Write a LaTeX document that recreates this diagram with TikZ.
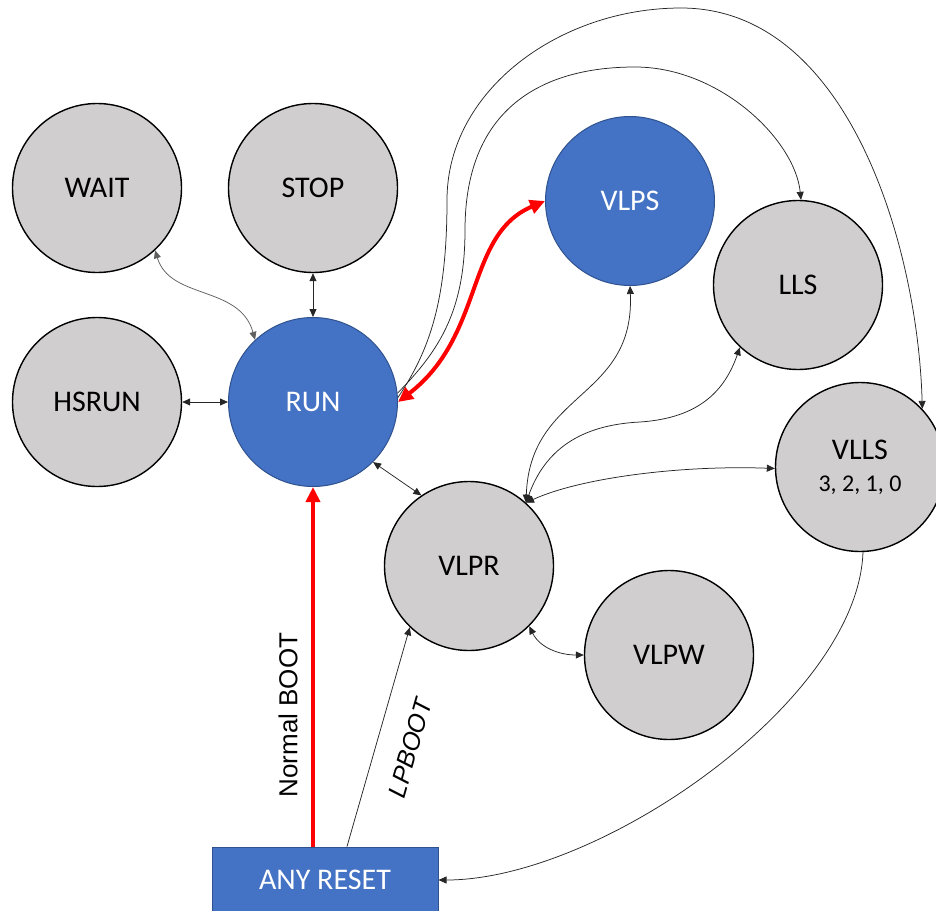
\documentclass[tikz,border=0pt]{standalone}
\usepackage{fontspec}
\setmainfont{Carlito}
\newfontfamily\labelfont{Liberation Sans}
\usetikzlibrary{arrows.meta}
\definecolor{nodeblue}{HTML}{4472C4}
\definecolor{blueedge}{HTML}{2F528F}
\definecolor{nodegray}{HTML}{D0CECE}
\definecolor{linkgray}{HTML}{606060}
\tikzset{
  state/.style={circle, minimum size=169pt, inner sep=0pt, fill=nodegray, draw=black,
    line width=1.4pt, font=\fontsize{30}{32}\selectfont},
  bluestate/.style={state, fill=nodeblue, draw=blueedge, line width=1pt, text=white},
  link/.style={line width=0.75pt, draw=black!85, {Triangle[length=8pt,width=7pt]}-{Triangle[length=8pt,width=7pt]}},
  onelink/.style={line width=0.75pt, draw=black!85, -{Triangle[length=8pt,width=7pt]}},
  redlink/.style={line width=4pt, draw=red},
  redtips/.style={{Triangle[length=15pt,width=14pt]}-{Triangle[length=15pt,width=14pt]}},
  redtip/.style={-{Triangle[length=15pt,width=14pt]}},
  resetbox/.style={rectangle, draw=blueedge, fill=nodeblue, text=white, minimum width=226pt,
    minimum height=66pt, inner sep=0pt, line width=1pt, font=\fontsize{30}{32}\selectfont},
  lbl/.style={font=\labelfont\fontsize{26}{28}\selectfont, inner sep=0pt},
}
\begin{document}
\begin{tikzpicture}[x=1pt,y=-1pt]
\clip (0,0) rectangle (936,910);
% states
\node[state] (wait) at (97,188) {WAIT};
\node[state] (stop) at (313,188) {STOP};
\node[state] (hsrun) at (97,402) {HSRUN};
\node[bluestate] (run) at (313,402) {RUN};
\node[bluestate] (vlps) at (630,201) {VLPS};
\node[state] (lls) at (798,285) {LLS};
\node[state, align=center] (vlls) at (860,467) {VLLS\\{\fontsize{24}{28}\selectfont 3, 2, 1, 0}};
\node[state] (vlpr) at (469,566) {VLPR};
\node[state] (vlpw) at (669,655) {VLPW};
\node[resetbox] (reset) at (325,880) {ANY RESET};
% connectors
\draw[link, draw=linkgray] (wait.-47) .. controls (170,300) and (240,285) .. (run.133);
\draw[link] (stop.south) -- (run.north);
\draw[link] (hsrun.east) -- (run.west);
\draw[link] (run.-45) -- (vlpr.124);
\draw[onelink] (run.3) .. controls (430,350) and (447,300) .. (447,200)
  .. controls (447,90) and (560,8) .. (681,8)
  .. controls (850,8) and (918,250) .. (vlls.43);
\draw[onelink] (run.6) .. controls (440,350) and (465,310) .. (465,230)
  .. controls (465,110) and (540,67) .. (635,67)
  .. controls (720,67) and (795,140) .. (lls.88);
\draw[redlink, redtips] (run.0) .. controls (485,335) and (465,235) .. (vlps.180);
\draw[link] (vlpr.48) .. controls (530,390) and (635,400) .. (vlps.270);
\draw[link] (vlpr.48) .. controls (545,450) and (580,425) .. (640,422)
  .. controls (700,418) and (725,390) .. (lls.-133);
\draw[link] (vlpr.48) .. controls (580,478) and (680,465) .. (vlls.181);
\draw[link] (vlpr.-45) .. controls (540,648) and (560,655) .. (vlpw.180);
\draw[redlink, redtip] (run.south |- reset.north) -- (run.south);
\draw[onelink] ([xshift=22pt]reset.north) -- (vlpr.226);
\draw[onelink] (vlls.-88) .. controls (858,700) and (600,880) .. (reset.east);
% labels
\node[lbl, rotate=90] (nb) at (288,715) {Normal BOOT};
\node[lbl, font=\labelfont\itshape\fontsize{25}{27}\selectfont, rotate=74] (lp) at (410,748) {LPBOOT};
\end{tikzpicture}
\end{document}
